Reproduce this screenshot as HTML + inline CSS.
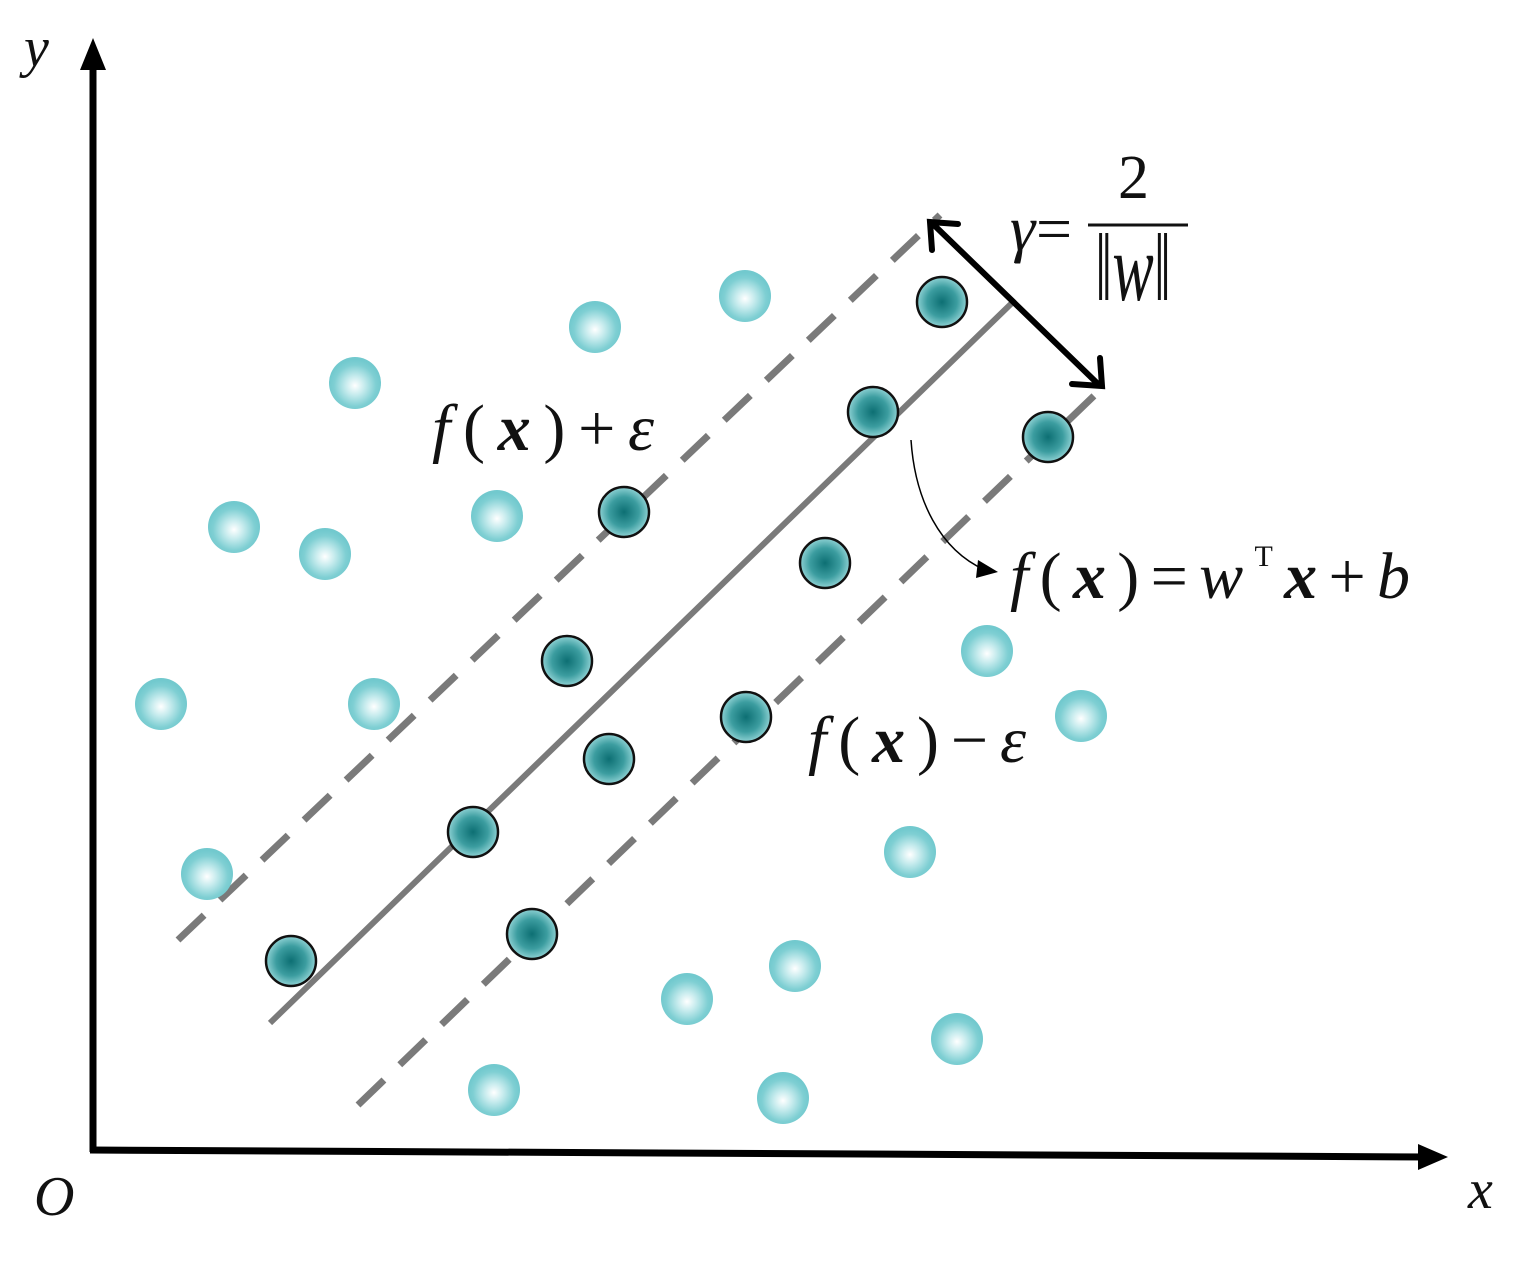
<!DOCTYPE html>
<html><head><meta charset="utf-8"><style>html,body{margin:0;padding:0;background:#fff}</style></head>
<body>
<svg width="1527" height="1257" viewBox="0 0 1527 1257" xmlns="http://www.w3.org/2000/svg">
<defs>
<radialGradient id="lg" cx="0.5" cy="0.55" r="0.5">
<stop offset="0" stop-color="#ffffff"/><stop offset="0.35" stop-color="#c8ecee"/><stop offset="0.8" stop-color="#7fcfd3"/><stop offset="1" stop-color="#72c9ce"/></radialGradient>
<radialGradient id="dg" cx="0.5" cy="0.5" r="0.5">
<stop offset="0" stop-color="#0d6f73"/><stop offset="0.6" stop-color="#3c9da0"/><stop offset="1" stop-color="#8fd2d4"/></radialGradient>
</defs>
<g fill="none" stroke-linecap="butt">
<line x1="270" y1="1023" x2="1015" y2="300" stroke="#7a7a7a" stroke-width="6"/>
<line x1="178" y1="940" x2="940" y2="215" stroke="#7a7a7a" stroke-width="7" stroke-dasharray="36 22"/>
<line x1="358" y1="1105" x2="1100" y2="390" stroke="#7a7a7a" stroke-width="7" stroke-dasharray="36 22"/>
</g>
<g stroke="#000" stroke-width="7" fill="none">
<line x1="93" y1="1152" x2="93" y2="60"/>
<line x1="90" y1="1150" x2="1430" y2="1157"/>
</g>
<polygon points="93,38 80,70 106,70" fill="#000"/>
<polygon points="1448,1157 1418,1144 1418,1170" fill="#000"/>
<g stroke="#000" stroke-width="6" fill="none" stroke-linecap="round">
<line x1="935" y1="226" x2="1097" y2="383"/>
<polyline points="932,250 930,222 958,224"/>
<polyline points="1100,358 1102,386 1072,384"/>
</g>
<path d="M911,440 C915,500 940,550 985,570" stroke="#000" stroke-width="1.5" fill="none"/>
<polygon points="998,572 978,560 976,578" fill="#000"/>
<g fill="url(#lg)">
<circle cx="355" cy="383" r="26"/><circle cx="595" cy="327" r="26"/><circle cx="745" cy="296" r="26"/>
<circle cx="234" cy="527" r="26"/><circle cx="325" cy="554" r="26"/><circle cx="497" cy="516" r="26"/>
<circle cx="161" cy="704" r="26"/><circle cx="374" cy="704" r="26"/><circle cx="207" cy="874" r="26"/>
<circle cx="987" cy="651" r="26"/><circle cx="1081" cy="716" r="26"/><circle cx="910" cy="852" r="26"/>
<circle cx="795" cy="966" r="26"/><circle cx="687" cy="999" r="26"/><circle cx="957" cy="1039" r="26"/>
<circle cx="494" cy="1090" r="26"/><circle cx="783" cy="1098" r="26"/>
</g>
<g fill="url(#dg)" stroke="#111" stroke-width="2.5">
<circle cx="291" cy="961" r="25"/><circle cx="473" cy="832" r="25"/><circle cx="532" cy="934" r="25"/>
<circle cx="609" cy="759" r="25"/><circle cx="567" cy="661" r="25"/><circle cx="624" cy="512" r="25"/>
<circle cx="746" cy="717" r="25"/><circle cx="825" cy="563" r="25"/><circle cx="873" cy="412" r="25"/>
<circle cx="942" cy="302" r="25"/><circle cx="1048" cy="437" r="25"/>
</g>
<g font-family="Liberation Serif, serif" fill="#111">
<text x="24" y="66" font-size="56" font-style="italic">y</text>
<text x="34" y="1215" font-size="56" font-style="italic">O</text>
<text x="1468" y="1208" font-size="56" font-style="italic">x</text>
<text x="432" y="450" font-size="66" textLength="222" lengthAdjust="spacing"><tspan font-style="italic">f</tspan>(<tspan font-weight="bold" font-style="italic">x</tspan>)+<tspan font-style="italic">ε</tspan></text>
<text x="808" y="762" font-size="66" textLength="218" lengthAdjust="spacing"><tspan font-style="italic">f</tspan>(<tspan font-weight="bold" font-style="italic">x</tspan>)−<tspan font-style="italic">ε</tspan></text>
<text x="1010" y="598" font-size="66" textLength="400" lengthAdjust="spacing"><tspan font-style="italic">f</tspan>(<tspan font-weight="bold" font-style="italic">x</tspan>)=<tspan font-style="italic">w</tspan><tspan font-size="30" dy="-32">T</tspan><tspan dy="32" font-weight="bold" font-style="italic">x</tspan>+<tspan font-style="italic">b</tspan></text>
<text x="1010" y="250" font-size="64" font-style="italic">γ</text>
<text x="1036" y="250" font-size="64">=</text>
<text x="1118" y="198" font-size="62">2</text>
<line x1="1088" y1="225" x2="1188" y2="225" stroke="#111" stroke-width="3"/>
<text x="0" y="0" font-size="62" transform="translate(1095,300) scale(1,1.55)">‖<tspan font-style="italic">w</tspan>‖</text>
</g>
</svg>
</body></html>
